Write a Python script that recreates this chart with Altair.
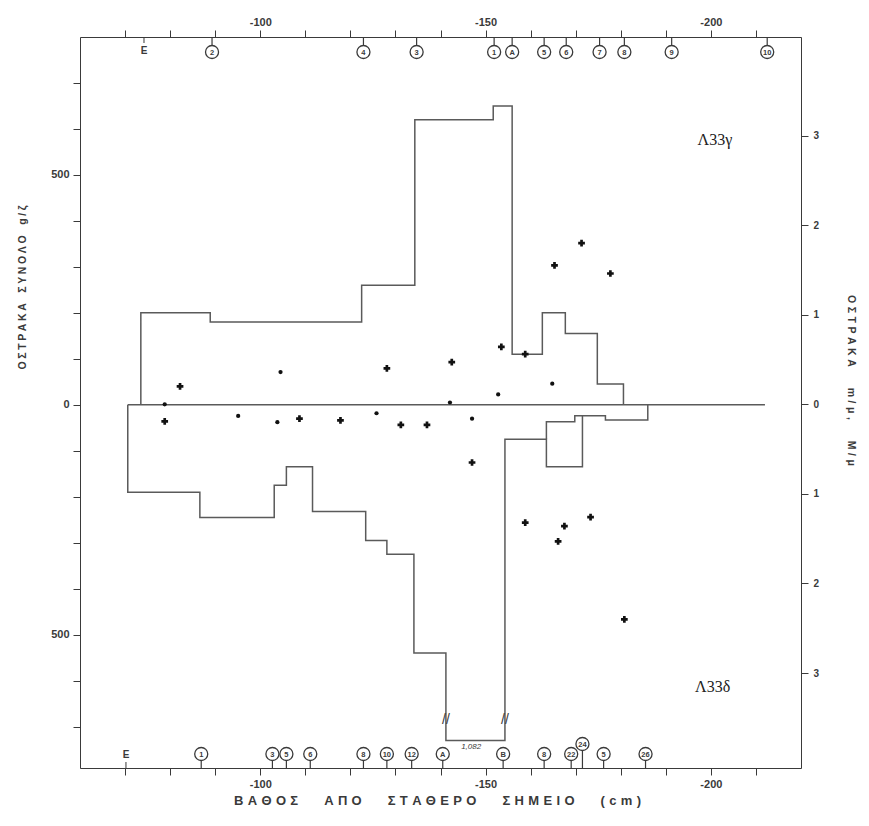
import altair as alt
import pandas as pd

# ---------------- data ----------------
# Λ33γ : total shells (g/ζ) per layer, depth boundaries in cm
g_edges = [-73.5, -88.9, -122.5, -134.3, -151.7, -155.9, -162.6, -167.7, -174.8, -180.6]
g_vals = [200, 180, 260, 620, 650, 110, 200, 155, 45]

# Λ33δ : total shells (g/ζ, drawn downward)
d_edges = [-70.6, -86.6, -103.1, -105.8, -111.6, -123.4, -128.1, -134.1, -141.2,
           -154.3, -163.5, -171.5, -176.6, -186.0]
d_vals = [-190, -245, -175, -135, -232, -295, -325, -540, -730, -75, -135, -24, -33]
# secondary outline inside Λ33δ
d2_edges = [-163.5, -169.8, -171.5]
d2_vals = [-37, -24]
d2_start = -75

# shells m/μ, M/μ (right axis), large and small symbols
big_x = [-82.2, -78.8, -108.7, -117.8, -128.1, -131.2, -137.0, -142.5, -147.0, -153.5,
         -158.8, -165.3, -171.3, -177.7, -158.8, -167.5, -166.1, -173.3, -180.8]
big_u = [0.20, -0.19, -0.16, -0.18, 0.40, -0.23, -0.23, 0.47, -0.65, 0.64,
         0.56, 1.55, 1.80, 1.46, -1.32, -1.36, -1.53, -1.26, -2.40]
small_x = [-78.8, -95.1, -104.5, -103.8, -125.8, -142.1, -147.0, -152.8, -164.8]
small_u = [0.0, -0.13, 0.36, -0.20, -0.10, 0.02, -0.16, 0.11, 0.23]

zero_span = [-70.6, -212.0]

# layer markers (top = Λ33γ, bottom = Λ33δ)
top_mark_x = [-89.3, -122.9, -134.7, -151.9, -155.9, -163.0, -167.9, -175.3, -180.8, -191.3, -212.5]
top_mark_lab = ["2", "4", "3", "1", "A", "5", "6", "7", "8", "9", "10"]
top_e_x = -74.2
bot_mark_x = [-86.9, -102.7, -105.8, -111.1, -122.9, -128.1, -133.6, -140.5, -153.9, -163.0, -169.0, -176.2, -185.5]
bot_mark_lab = ["1", "3", "5", "6", "8", "10", "12", "A", "B", "8", "22", "5", "26"]
bot_hi_x = [-171.5]
bot_hi_lab = ["24"]
bot_e_x = -70.2

break_x = [-141.2, -154.3]
big_label_x = -146.8
big_label = "1,082"

x_ticks = list(range(-70, -211, -10))
left_ticks = list(range(-700, 701, 100))
right_ticks = [-3, -2, -1, 0, 1, 2, 3]

bottom_title_words = ["ΒΑΘΟΣ", "ΑΠΟ", "ΣΤΑΘΕΡΟ", "ΣΗΜΕΙΟ", "(cm)"]
left_title_words = ["ΟΣΤΡΑΚΑ", "ΣΥΝΟΛΟ", "g/ζ"]
right_title_words = ["ΟΣΤΡΑΚΑ", "m/μ,", "M/μ"]

INK = "#3a3a3a"
LINE = "#5a5a5a"
FONT = "Liberation Sans"


def spaced(words, letter_gap, word_gap):
    return word_gap.join(letter_gap.join(list(w)) for w in words)


def step_path(edges, vals, start=0, end=0):
    pts = [(edges[0], start)]
    for i, v in enumerate(vals):
        pts.append((edges[i], v))
        pts.append((edges[i + 1], v))
    pts.append((edges[-1], end))
    return pd.DataFrame({"x": [p[0] for p in pts], "y": [p[1] for p in pts],
                         "i": list(range(len(pts)))})


g_df = step_path(g_edges, g_vals)
d_df = step_path(d_edges, d_vals)
d2_df = step_path(d2_edges, d2_vals, start=d2_start, end=d2_vals[-1])
zero_df = pd.DataFrame({"x": zero_span, "y": [0, 0], "i": [0, 1]})

big_df = pd.DataFrame({"x": big_x, "u": big_u})
small_df = pd.DataFrame({"x": small_x, "u": small_u})
top_df = pd.DataFrame({"x": top_mark_x, "t": top_mark_lab})
bot_df = pd.DataFrame({"x": bot_mark_x, "t": bot_mark_lab})
bothi_df = pd.DataFrame({"x": bot_hi_x, "t": bot_hi_lab})
brk_df = pd.DataFrame({"x": break_x, "t": ["//", "//"]})

LG = "\u2005"          # four-per-em space between letters
LG3 = "\u2004"         # three-per-em space
WG = "\u2003\u2003"    # em spaces between words

XB = alt.X("x:Q",
           scale=alt.Scale(domain=[-220, -60], reverse=True, nice=False, zero=False),
           axis=alt.Axis(orient="bottom", values=x_ticks, tickSize=7, grid=False,
                         labelExpr="datum.value % 50 == 0 ? '-' + abs(datum.value) : ''",
                         labelFont=FONT, labelFontWeight="bold", labelFontSize=11,
                         labelColor=INK, labelPadding=3, tickColor=INK, domainColor=INK,
                         title=spaced(bottom_title_words, LG3, WG),
                         titleFont=FONT, titleFontSize=13, titleFontWeight="bold",
                         titleColor=INK, titleX=357, titleY=26, titleAnchor="middle"))
YL = alt.Y("y:Q",
           scale=alt.Scale(domain=[-790, 800], nice=False, zero=False),
           axis=alt.Axis(orient="left", values=left_ticks, tickSize=7, grid=False,
                         labelExpr="datum.value % 500 == 0 ? abs(datum.value) : ''",
                         labelFont=FONT, labelFontWeight="bold", labelFontSize=11,
                         labelColor=INK, labelPadding=4, tickColor=INK, domainColor=INK,
                         title=spaced(left_title_words, LG, "\u2003"),
                         titleFont=FONT, titleFontSize=10.5, titleFontWeight="bold",
                         titleColor=INK, titleAngle=-90, titleX=-58, titleY=250,
                         titleBaseline="middle", titleAlign="center"))

lineA = alt.Chart(g_df).mark_line(color=LINE, strokeWidth=1.5).encode(x=XB, y=YL, order="i:Q")
lineB = alt.Chart(d_df).mark_line(color=LINE, strokeWidth=1.5).encode(x=XB, y=YL, order="i:Q")
lineC = alt.Chart(d2_df).mark_line(color=LINE, strokeWidth=1.5).encode(x=XB, y=YL, order="i:Q")
zero = alt.Chart(zero_df).mark_line(color=LINE, strokeWidth=1.5).encode(x=XB, y=YL, order="i:Q")

brk = alt.Chart(brk_df).mark_text(font=FONT, fontSize=14, color=INK).encode(
    x=XB, y=alt.value(683), text="t:N")
bigl = alt.Chart(pd.DataFrame({"x": [big_label_x], "t": [big_label]})).mark_text(
    font=FONT, fontSize=8, fontStyle="italic", color=INK).encode(x=XB, y=alt.value(710), text="t:N")

lab_g = alt.Chart(pd.DataFrame({"x": [-200.9], "t": ["Λ33γ"]})).mark_text(
    font="Liberation Serif", fontSize=16, color="#222").encode(x=XB, y=alt.value(103), text="t:N")
lab_d = alt.Chart(pd.DataFrame({"x": [-200.4], "t": ["Λ33δ"]})).mark_text(
    font="Liberation Serif", fontSize=16, color="#222").encode(x=XB, y=alt.value(650), text="t:N")

CS = 170  # marker circle size

# top markers
top_tick = alt.Chart(top_df).mark_rule(color=INK, strokeWidth=1.2).encode(
    x=XB, y=alt.value(0), y2=alt.value(8))
top_circ = alt.Chart(top_df).mark_point(shape="circle", size=CS, filled=True, fill="white",
                                        stroke=INK, strokeWidth=1.3, opacity=1).encode(
    x=XB, y=alt.value(15))
top_txt = alt.Chart(top_df).mark_text(font=FONT, fontSize=7.5, fontWeight="bold", color=INK).encode(
    x=XB, y=alt.value(15.5), text="t:N")
top_e = alt.Chart(pd.DataFrame({"x": [top_e_x], "t": ["E"]})).mark_text(
    font=FONT, fontSize=10, fontWeight="bold", color=INK).encode(x=XB, y=alt.value(14), text="t:N")
top_e_tick = alt.Chart(pd.DataFrame({"x": [top_e_x]})).mark_rule(color=INK).encode(
    x=XB, y=alt.value(0), y2=alt.value(6))

# bottom markers
bot_tick = alt.Chart(bot_df).mark_rule(color=INK, strokeWidth=1.2).encode(
    x=XB, y=alt.value(723), y2=alt.value(731))
bot_circ = alt.Chart(bot_df).mark_point(shape="circle", size=CS, filled=True, fill="white",
                                        stroke=INK, strokeWidth=1.3, opacity=1).encode(
    x=XB, y=alt.value(717))
bot_txt = alt.Chart(bot_df).mark_text(font=FONT, fontSize=7.5, fontWeight="bold", color=INK).encode(
    x=XB, y=alt.value(717.5), text="t:N")
bothi_tick = alt.Chart(bothi_df).mark_rule(color=INK, strokeWidth=1.2).encode(
    x=XB, y=alt.value(713), y2=alt.value(731))
bothi_circ = alt.Chart(bothi_df).mark_point(shape="circle", size=CS, filled=True, fill="white",
                                            stroke=INK, strokeWidth=1.3, opacity=1).encode(
    x=XB, y=alt.value(707))
bothi_txt = alt.Chart(bothi_df).mark_text(font=FONT, fontSize=7.5, fontWeight="bold", color=INK).encode(
    x=XB, y=alt.value(707.5), text="t:N")
bot_e = alt.Chart(pd.DataFrame({"x": [bot_e_x], "t": ["E"]})).mark_text(
    font=FONT, fontSize=10, fontWeight="bold", color=INK).encode(x=XB, y=alt.value(718), text="t:N")
bot_e_tick = alt.Chart(pd.DataFrame({"x": [bot_e_x]})).mark_rule(color=INK).encode(
    x=XB, y=alt.value(725), y2=alt.value(731))

groupA = alt.layer(lineA, lineB, lineC, zero, brk, bigl, lab_g, lab_d,
                   top_tick, top_circ, top_txt, top_e, top_e_tick,
                   bot_tick, bot_circ, bot_txt, bothi_tick, bothi_circ, bothi_txt,
                   bot_e, bot_e_tick)

XT = alt.X("x:Q",
           scale=alt.Scale(domain=[-220, -60], reverse=True, nice=False, zero=False),
           axis=alt.Axis(orient="top", values=x_ticks, tickSize=7, grid=False,
                         labelExpr="datum.value % 50 == 0 ? '-' + abs(datum.value) : ''",
                         labelFont=FONT, labelFontWeight="bold", labelFontSize=11,
                         labelColor=INK, labelPadding=3, tickColor=INK, domainColor=INK,
                         title=None))
YR = alt.Y("u:Q",
           scale=alt.Scale(domain=[-4.06, 4.10], nice=False, zero=False),
           axis=alt.Axis(orient="right", values=right_ticks, tickSize=7, grid=False,
                         labelExpr="abs(datum.value)",
                         labelFont=FONT, labelFontWeight="bold", labelFontSize=10,
                         labelColor=INK, labelPadding=5, tickColor=INK, domainColor=INK,
                         title=spaced(right_title_words, LG3, "\u2003\u2003"),
                         titleFont=FONT, titleFontSize=10.5, titleFontWeight="bold",
                         titleColor=INK, titleAngle=90, titleX=49, titleY=380 - 37,
                         titleBaseline="middle", titleAlign="center"))

pts_big = alt.Chart(big_df).mark_point(shape="cross", filled=True, size=45, color="#111",
                                       opacity=1).encode(x=XT, y=YR)
pts_small = alt.Chart(small_df).mark_point(shape="circle", filled=True, size=18, color="#111",
                                           opacity=1).encode(x=XT, y=YR)
groupB = alt.layer(pts_big, pts_small)

chart = alt.layer(groupA, groupB).resolve_scale(x="independent", y="independent").properties(
    width=721, height=731,
    autosize=alt.AutoSizeParams(type="none"),
    padding={"left": 72, "top": 29, "right": 60, "bottom": 50},
).configure_view(stroke=INK, strokeWidth=1.5).configure(background="white")

chart.save("out.html", embed_options={"renderer": "svg", "actions": False})
